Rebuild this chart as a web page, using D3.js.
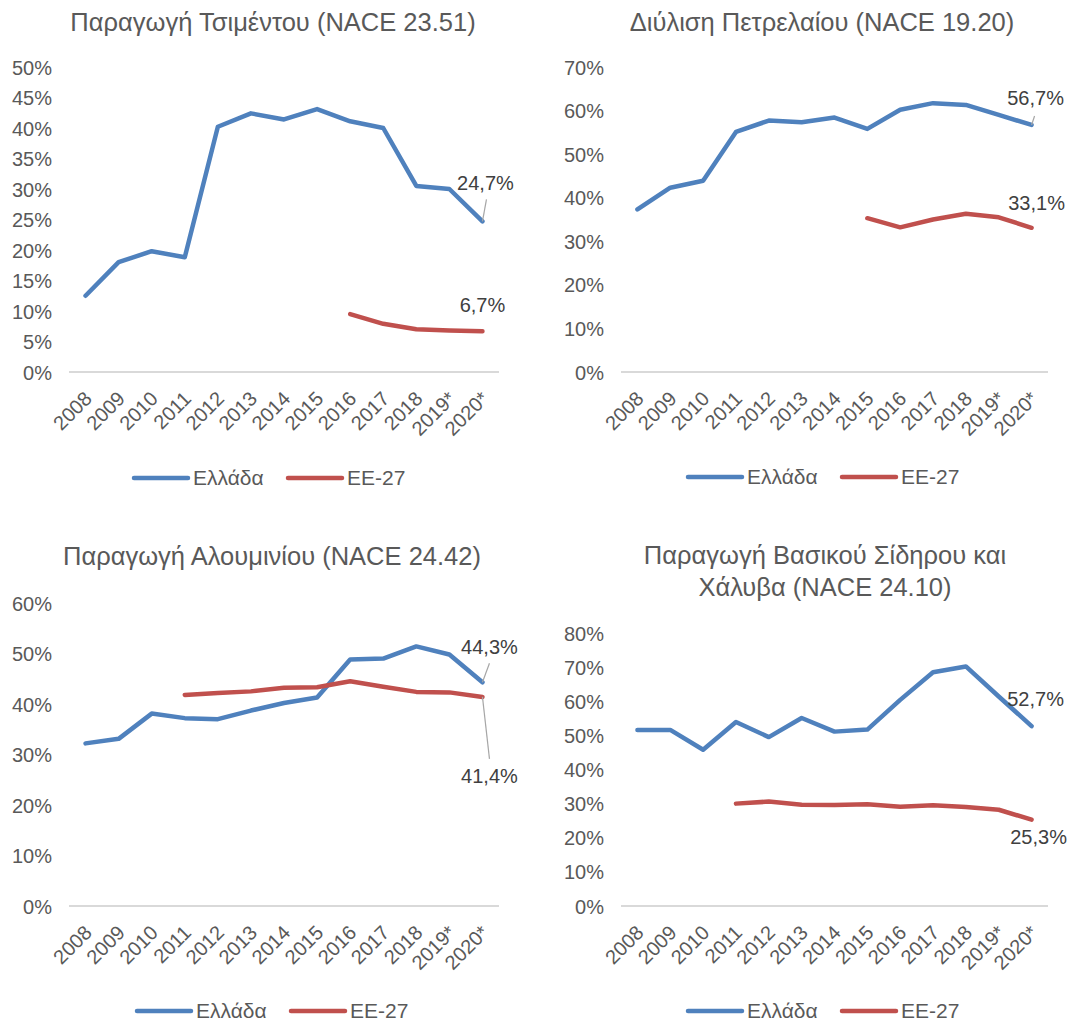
<!DOCTYPE html>
<html><head><meta charset="utf-8">
<script src="https://cdn.jsdelivr.net/npm/d3@7"></script>
<style>body{margin:0;background:#fff;}svg{display:block;font-family:"Liberation Sans",Arial,sans-serif;}</style>
</head><body>
<svg id="c" width="1088" height="1024"></svg>
<script>
const years = ["2008","2009","2010","2011","2012","2013","2014","2015","2016","2017","2018","2019*","2020*"];
const seriesNames = ["Ελλάδα","ΕΕ-27"];
const titles = [
  ["Παραγωγή Τσιμέντου (NACE 23.51)"],
  ["Διύλιση Πετρελαίου (NACE 19.20)"],
  ["Παραγωγή Αλουμινίου (NACE 24.42)"],
  ["Παραγωγή Βασικού Σίδηρου και","Χάλυβα (NACE 24.10)"]
];
const cementGR = [12.5,18.0,19.8,18.8,40.2,42.4,41.4,43.1,41.1,40.0,30.5,30.0,24.7];
const cementEU = [null,null,null,null,null,null,null,null,9.5,7.9,7.0,6.8,6.7];
const refineGR = [37.3,42.3,43.9,55.1,57.7,57.3,58.4,55.8,60.2,61.7,61.3,59.0,56.7];
const refineEU = [null,null,null,null,null,null,null,35.3,33.2,35.0,36.3,35.5,33.1];
const aluGR = [32.2,33.1,38.1,37.2,37.0,38.7,40.2,41.3,48.8,49.0,51.4,49.8,44.3];
const aluEU = [null,null,null,41.8,42.2,42.5,43.2,43.3,44.5,43.4,42.4,42.3,41.4];
const steelGR = [51.6,51.6,45.8,53.9,49.5,55.1,51.1,51.7,60.4,68.5,70.2,61.4,52.7];
const steelEU = [null,null,null,30.0,30.6,29.7,29.6,29.8,29.1,29.5,29.0,28.2,25.3];
const yMax = [50,70,60,80];
const yStep = [5,10,10,10];
const endLabels = [["24,7%","6,7%"],["56,7%","33,1%"],["44,3%","41,4%"],["52,7%","25,3%"]];

const colors = ["#4F81BD","#C0504D"];
const textCol = "#595959";
const svg = d3.select("#c");

const panels = [
  {gr:cementGR, eu:cementEU, x0:69, x1:499, y0:372, yTop:67, titleY:31, titleX:273, legY:478, legX:134,
   lab:[{dx:3,dy:-38,lx:[0,4,-22]},{dx:0,dy:-26}]},
  {gr:refineGR, eu:refineEU, x0:621, x1:1048, y0:372, yTop:67, titleY:31, titleX:822, legY:477, legX:688,
   lab:[{dx:4,dy:-27,lx:[0,3,-9]},{dx:5,dy:-25}]},
  {gr:aluGR, eu:aluEU, x0:69, x1:499, y0:906, yTop:603, titleY:565, titleX:272, legY:1011, legX:137,
   lab:[{dx:7,dy:-35,lx:[0,7,-19]},{dx:7,dy:79,lx:[0,7,62]}]},
  {gr:steelGR, eu:steelEU, x0:621, x1:1048, y0:906, yTop:633, titleY:564, titleX:825, legY:1011, legX:688,
   lab:[{dx:4,dy:-27},{dx:7,dy:17}]}
];

panels.forEach((p,i)=>{
  const g = svg.append("g");
  const x = d3.scalePoint().domain(years).range([p.x0,p.x1]).padding(0.5);
  const y = d3.scaleLinear().domain([0,yMax[i]]).range([p.y0,p.yTop]);
  // title
  const t = g.append("text").attr("x",p.titleX).attr("y",p.titleY).attr("text-anchor","middle")
    .attr("font-size",25.5).attr("fill",textCol);
  titles[i].forEach((s,k)=>t.append("tspan").attr("x",p.titleX).attr("dy",k?32:0).text(s));
  // y axis
  const ticks = d3.range(0,yMax[i]+0.001,yStep[i]);
  const ya = d3.axisLeft(y).tickValues(ticks).tickSize(0).tickPadding(0).tickFormat(d=>d+"%");
  const yg = g.append("g").attr("transform",`translate(${p.x0-17},0)`).call(ya);
  yg.select(".domain").remove();
  yg.selectAll("text").attr("font-size",20).attr("fill",textCol).attr("font-family","Liberation Sans, Arial, sans-serif").attr("dy","0.35em");
  // x axis line
  const xa = d3.axisBottom(x).tickSize(0).tickPadding(0);
  const xg = g.append("g").attr("transform",`translate(0,${p.y0})`).call(xa);
  xg.select(".domain").attr("stroke","#D9D9D9").attr("stroke-width",2).attr("d",`M${p.x0},0H${p.x1}`);
  xg.selectAll("text").attr("font-size",20).attr("fill",textCol).attr("font-family","Liberation Sans, Arial, sans-serif")
    .attr("text-anchor","end").attr("dy",null).attr("y",0)
    .attr("transform","translate(7,28) rotate(-45)");
  // lines
  const line = d3.line().defined(d=>d.v!=null).x(d=>x(d.k)).y(d=>y(d.v));
  [p.gr,p.eu].forEach((arr,s)=>{
    const data = years.map((k,j)=>({k,v:arr[j]}));
    g.append("path").datum(data).attr("d",line).attr("fill","none").attr("stroke",colors[s])
      .attr("stroke-width",4.5).attr("stroke-linecap","round").attr("stroke-linejoin","round");
    const last = years[years.length-1], v = arr[arr.length-1];
    const lx = x(last), ly = y(v);
    const L = p.lab[s];
    if(L.lx){
      g.append("line").attr("x1",lx).attr("y1",ly).attr("x2",lx+L.lx[1]).attr("y2",ly+L.lx[2])
        .attr("stroke","#A6A6A6").attr("stroke-width",1.2);
    }
    g.append("text").attr("x",lx+L.dx).attr("y",ly+L.dy).attr("dy","0.35em").attr("text-anchor","middle")
      .attr("font-size",20).attr("fill","#404040").text(endLabels[i][s]);
  });
  // legend
  seriesNames.forEach((n,s)=>{
    const lx = p.legX + s*154;
    g.append("line").attr("x1",lx).attr("x2",lx+54).attr("y1",p.legY).attr("y2",p.legY)
      .attr("stroke",colors[s]).attr("stroke-width",4.5).attr("stroke-linecap","round");
    g.append("text").attr("x",lx+59).attr("y",p.legY).attr("dy","0.35em").attr("font-size",21)
      .attr("fill",textCol).text(n);
  });
});
</script>
</body></html>
